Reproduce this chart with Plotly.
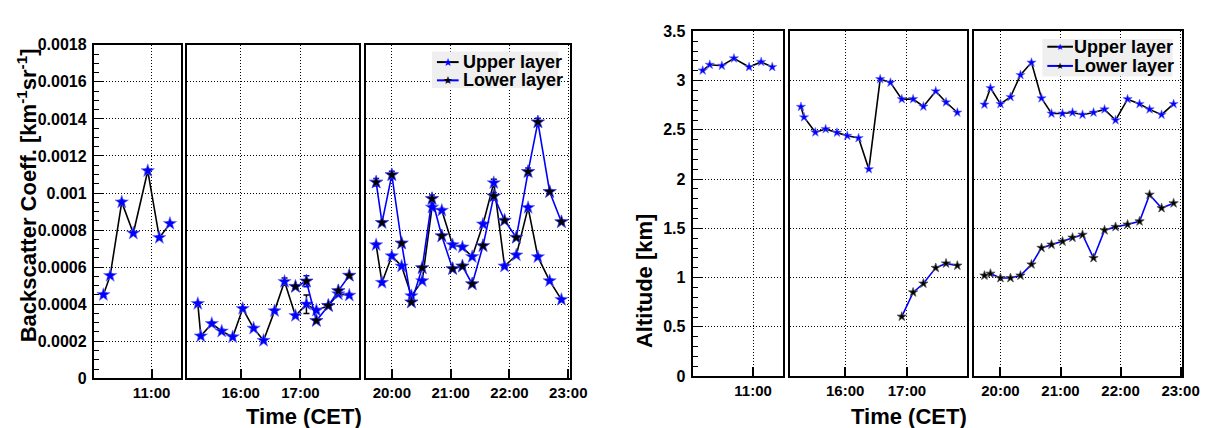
import plotly.graph_objects as go

# ---------------- data ----------------
# observation times (CET)
upper_times = [
    "10:10", "10:17", "10:29", "10:41", "10:56", "11:08", "11:19",
    "15:17", "15:20", "15:31", "15:41", "15:52", "16:02", "16:13", "16:23",
    "16:34", "16:44", "16:55", "17:06", "17:16", "17:28", "17:38", "17:49",
    "19:44", "19:50", "20:00", "20:10", "20:20", "20:31", "20:41", "20:51",
    "21:02", "21:12", "21:22", "21:33", "21:44", "21:55", "22:07", "22:19",
    "22:29", "22:41", "22:53",
]
lower_times = [
    "16:55", "17:06", "17:16", "17:28", "17:38", "17:49",
    "19:44", "19:50", "20:00", "20:10", "20:20", "20:31", "20:41", "20:51",
    "21:02", "21:12", "21:22", "21:33", "21:44", "21:55", "22:07", "22:19",
    "22:29", "22:41", "22:53",
]

# backscatter coefficient [km^-1 sr^-1]
upper_backscatter = [
    0.000451, 0.000554, 0.000951, 0.000783, 0.00112, 0.000759, 0.000835,
    0.000403, 0.000228, 0.000295, 0.000254, 0.000223, 0.000376, 0.000270, 0.000204,
    0.000364, 0.000522, 0.000338, 0.000400, 0.000367, 0.000392, 0.000455, 0.000448,
    0.000720, 0.000517, 0.000660, 0.000605, 0.000445, 0.000526, 0.000923, 0.000906,
    0.000720, 0.000708, 0.000656, 0.000832, 0.001055, 0.000605, 0.000665, 0.000921,
    0.000655, 0.000526, 0.000425,
]
upper_backscatter_err = [
    0.00001, 0.00001, 0.00001, 0.00001, 0.00001, 0.00001, 0.00001,
    0.00001, 0.00001, 0.00001, 0.00001, 0.00001, 0.00001, 0.00001, 0.00001,
    0.00001, 0.00002, 0.00001, 0.00005, 0.00001, 0.00001, 0.00001, 0.00001,
    0.00001, 0.00001, 0.00001, 0.00001, 0.00001, 0.00001, 0.00001, 0.00001,
    0.00001, 0.00001, 0.00001, 0.00001, 0.00002, 0.00001, 0.00001, 0.00001,
    0.00001, 0.00001, 0.00001,
]
lower_backscatter = [
    0.000495, 0.000524, 0.000311, 0.000392, 0.000472, 0.000555,
    0.001058, 0.000840, 0.001098, 0.000729, 0.000411, 0.000596, 0.000969, 0.000768,
    0.000591, 0.000605, 0.000509, 0.000715, 0.000983, 0.000852, 0.000760, 0.001115,
    0.001383, 0.001007, 0.000844,
]
lower_backscatter_err = [
    0.00001, 0.00003, 0.00001, 0.00001, 0.00001, 0.00001,
    0.00002, 0.00001, 0.00002, 0.00001, 0.00001, 0.00001, 0.00002, 0.00001,
    0.00001, 0.00001, 0.00001, 0.00001, 0.00002, 0.00001, 0.00001, 0.00002,
    0.00002, 0.00001, 0.00001,
]

# layer altitude [km]
upper_altitude = [
    3.103, 3.161, 3.151, 3.226, 3.138, 3.190, 3.138,
    2.734, 2.628, 2.475, 2.508, 2.472, 2.440, 2.417, 2.101,
    3.015, 2.980, 2.812, 2.812, 2.737, 2.892, 2.780, 2.676,
    2.757, 2.925, 2.763, 2.834, 3.057, 3.183, 2.821, 2.666,
    2.666, 2.676, 2.654, 2.676, 2.708, 2.598, 2.812, 2.763,
    2.708, 2.654, 2.763,
]
lower_altitude = [
    0.604, 0.850, 0.940, 1.099, 1.144, 1.122,
    1.021, 1.040, 0.996, 0.996, 1.021, 1.134, 1.302, 1.335,
    1.367, 1.406, 1.435, 1.199, 1.481, 1.515, 1.539, 1.571,
    1.842, 1.706, 1.755,
]

series_names = ["Upper layer", "Lower layer"]

# broken time axis: three time windows
window_ranges = [(10.0, 11.5), (15.11, 17.98), (19.56, 23.03)]
window_tick_labels = [["11:00"], ["16:00", "17:00"], ["20:00", "21:00", "22:00", "23:00"]]

backscatter_ticks = [0, 0.0002, 0.0004, 0.0006, 0.0008, 0.001, 0.0012, 0.0014, 0.0016, 0.0018]
backscatter_tick_labels = ["0", "0.0002", "0.0004", "0.0006", "0.0008", "0.001",
                           "0.0012", "0.0014", "0.0016", "0.0018"]
altitude_ticks = [0, 0.5, 1, 1.5, 2, 2.5, 3, 3.5]
altitude_tick_labels = ["0", "0.5", "1", "1.5", "2", "2.5", "3", "3.5"]


# ---------------- helpers ----------------
def to_hours(s):
    h, m = s.split(":")
    return int(h) + int(m) / 60.0


def select(times, values, errors, rng):
    xs, ys, es = [], [], []
    for i, t in enumerate(times):
        th = to_hours(t)
        if rng[0] <= th <= rng[1]:
            xs.append(th)
            ys.append(values[i])
            es.append(errors[i] if errors is not None else None)
    return xs, ys, es


FONT = "Liberation Sans, Arial, Helvetica, sans-serif"
W, H = 1220, 428
LW = 2  # frame line width (drawn just outside each domain)

UPPER_LINE, UPPER_MARK = "black", "#0000ff"
LOWER_LINE, LOWER_MARK = "#0000ff", "black"

# pixel geometry (frame line centres) of the six frames
left_x_px = [(86, 176), (181, 357), (362, 571)]
right_x_px = [(693.3, 787.3), (792.3, 974), (978.7, 1192)]
left_y_px = (29, 378.3)
right_y_px = (15, 376)

GRID = dict(showgrid=True, gridcolor="black", gridwidth=1, griddash="1px,2px")

fig = go.Figure()
layout = {}
shapes = []
annotations = []


def add_plot(offset, x_px, y_px, upper_vals, upper_err, lower_vals, lower_err,
             yticks, ylabels, yrange, minor_dtick, marker_size, lower_outline):
    half = LW / 2
    for k in range(3):
        idx = offset + k + 1
        xname = "x" if idx == 1 else f"x{idx}"
        yname = "y" if idx == 1 else f"y{idx}"
        rng = window_ranges[k]
        layout[f"xaxis{idx}"] = dict(
            domain=[(x_px[k][0] + half) / W, (x_px[k][1] - half) / W], anchor=yname,
            range=list(rng),
            tickvals=[to_hours(s) for s in window_tick_labels[k]],
            ticktext=window_tick_labels[k], ticks="inside", ticklen=9, tickwidth=2,
            tickcolor="black", showline=True, mirror=True, linewidth=LW, linecolor="black",
            tickfont=dict(family=FONT, size=15, color="black", weight="bold"),
            zeroline=False, ticklabelstandoff=0, **GRID,
        )
        yax = dict(
            domain=[1 - (y_px[1] - half) / H, 1 - (y_px[0] + half) / H], anchor=xname,
            range=yrange, tickvals=yticks, ticktext=ylabels, showline=True, mirror=True,
            linewidth=LW, linecolor="black", zeroline=False,
            tickfont=dict(family=FONT, size=16, color="black", weight="bold"), **GRID,
        )
        if k == 0:
            yax.update(ticks="inside", ticklen=9, tickwidth=1, tickcolor="black",
                       showticklabels=True, ticklabelstandoff=2,
                       minor=dict(ticks="inside", ticklen=5, dtick=minor_dtick, tick0=0,
                                  tickcolor="black", showgrid=False))
        else:
            yax.update(ticks="", showticklabels=False)
        layout[f"yaxis{idx}"] = yax

        # upper layer: black line, blue stars
        ux, uy, ue = select(upper_times, upper_vals, upper_err, rng)
        trace = dict(
            x=ux, y=uy, xaxis=xname, yaxis=yname, mode="lines+markers",
            name=series_names[0], showlegend=False,
            line=dict(color=UPPER_LINE, width=1.6),
            marker=dict(symbol="star", size=marker_size, color=UPPER_MARK,
                        line=dict(color="#6f6fff", width=0.6)),
            cliponaxis=False,
        )
        if upper_err is not None:
            trace["error_y"] = dict(type="data", array=ue, visible=True, color=UPPER_LINE,
                                    thickness=1.5, width=3)
        fig.add_trace(go.Scatter(**trace))

        # lower layer: blue line, black stars
        lx, ly, le = select(lower_times, lower_vals, lower_err, rng)
        trace = dict(
            x=lx, y=ly, xaxis=xname, yaxis=yname, mode="lines+markers",
            name=series_names[1], showlegend=False,
            line=dict(color=LOWER_LINE, width=1.6),
            marker=dict(symbol="star", size=marker_size, color=LOWER_MARK,
                        line=dict(color=lower_outline, width=0.8)),
            cliponaxis=False,
        )
        if lower_err is not None:
            trace["error_y"] = dict(type="data", array=le, visible=True, color=LOWER_LINE,
                                    thickness=1.5, width=3)
        fig.add_trace(go.Scatter(**trace))


def add_legend(box, rows_y, sample_x, text_x, star_size, font_size):
    # ROOT-style legend box: grey fill, line sample with star marker, bold label
    shapes.append(dict(type="rect", xref="paper", yref="paper",
                       x0=box[0] / W, x1=box[2] / W, y0=1 - box[3] / H, y1=1 - box[1] / H,
                       fillcolor="#efefef", line=dict(width=0), layer="above"))
    styles = [(UPPER_LINE, UPPER_MARK), (LOWER_LINE, LOWER_MARK)]
    for name, yy, (lc, mc) in zip(series_names, rows_y, styles):
        shapes.append(dict(type="line", xref="paper", yref="paper",
                           x0=sample_x[0] / W, x1=sample_x[1] / W,
                           y0=1 - yy / H, y1=1 - yy / H,
                           line=dict(color=lc, width=2), layer="above"))
        annotations.append(dict(text="\u2605", x=(sample_x[0] + sample_x[1]) / 2 / W,
                                y=1 - yy / H, xref="paper", yref="paper", showarrow=False,
                                xanchor="center", yanchor="middle",
                                font=dict(family="DejaVu Sans", size=star_size, color=mc)))
        annotations.append(dict(text=name, x=text_x / W, y=1 - yy / H, xref="paper",
                                yref="paper", showarrow=False, xanchor="left",
                                yanchor="middle",
                                font=dict(family=FONT, size=font_size, color="black",
                                          weight="bold")))


add_plot(0, left_x_px, left_y_px, upper_backscatter, upper_backscatter_err,
         lower_backscatter, lower_backscatter_err, backscatter_ticks,
         backscatter_tick_labels, [0, 0.0018], 0.00005, 10, "#3a3aff")
add_plot(3, right_x_px, right_y_px, upper_altitude, None,
         lower_altitude, None, altitude_ticks, altitude_tick_labels,
         [0, 3.5], 0.1, 7, "#555555")

add_legend((430, 37, 558, 75), (48, 67), (435, 457), 459, 11, 18)
add_legend((1049, 24, 1181, 63), (32, 52), (1054, 1080), 1079, 9, 18)

title_font = dict(family=FONT, size=22, color="black", weight="bold")
annotations += [
    dict(text="Backscatter Coeff. [km<sup>-1</sup>sr<sup>-1</sup>]", x=19 / W, y=1 - 187 / H,
         xref="paper", yref="paper", textangle=-90, showarrow=False,
         xanchor="center", yanchor="middle", font=title_font),
    dict(text="Time (CET)", x=300 / W, y=1 - 417 / H, xref="paper", yref="paper",
         showarrow=False, xanchor="center", yanchor="middle", font=title_font),
    dict(text="Altitude [km]", x=645 / W, y=1 - 276 / H, xref="paper", yref="paper",
         textangle=-90, showarrow=False, xanchor="center", yanchor="middle", font=title_font),
    dict(text="Time (CET)", x=914 / W, y=1 - 417 / H, xref="paper", yref="paper",
         showarrow=False, xanchor="center", yanchor="middle", font=title_font),
]

fig.update_layout(
    width=W, height=H, autosize=False,
    margin=dict(l=0, r=0, t=0, b=0, pad=0),
    paper_bgcolor="white", plot_bgcolor="white",
    showlegend=False,
    shapes=shapes,
    annotations=annotations,
    **layout,
)

fig.write_html("out.html")
